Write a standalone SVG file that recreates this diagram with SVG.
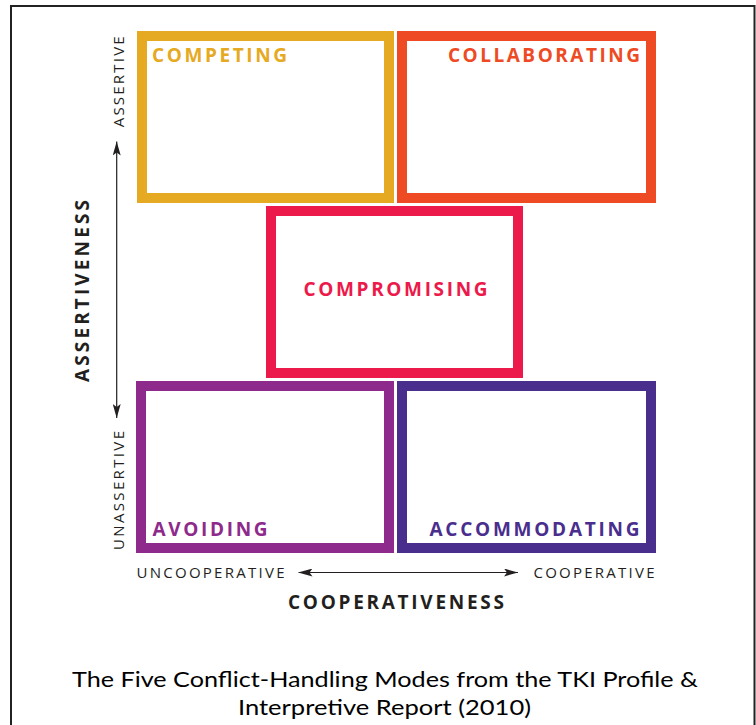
<svg xmlns="http://www.w3.org/2000/svg" width="756" height="725" viewBox="0 0 756 725">
  <defs>
    <marker id="ah" viewBox="0 0 14 8" refX="14" refY="4" markerWidth="14" markerHeight="8" markerUnits="userSpaceOnUse" orient="auto-start-reverse">
      <path d="M0,0 L14,4 L0,8 L3,4 Z" fill="#231F20"/>
    </marker>
  </defs>
  <style>
    .box { fill: #ffffff; stroke-width: 10; }
    .lbl { font-family: "Open Sans", "Liberation Sans", sans-serif; font-weight: 700; font-size: 19px; }
    .ax { font-family: "Open Sans", "Liberation Sans", sans-serif; font-size: 15px; fill: #231F20; }
    .axb { font-family: "Open Sans", "Liberation Sans", sans-serif; font-weight: 700; font-size: 19px; fill: #231F20; }
    .cap { font-family: "Lato", "Noto Sans", "Liberation Sans", sans-serif; font-size: 21px; fill: #000000; }
    .arr { stroke: #231F20; stroke-width: 1.2; fill: none; }
  </style>
  <rect x="0" y="0" width="756" height="725" fill="#ffffff"/>
  <rect x="11" y="6" width="743.5" height="760" fill="none" stroke="#222222" stroke-width="2"/>

  <g id="competing">
    <rect class="box" x="142" y="36" width="247" height="162" stroke="#E6A922"/>
    <text class="lbl" x="152" y="61.5" fill="#E6A922" textLength="135" lengthAdjust="spacing">COMPETING</text>
  </g>
  <g id="collaborating">
    <rect class="box" x="402" y="36" width="249" height="162" stroke="#EE4A23"/>
    <text class="lbl" x="448" y="61.5" fill="#EE4A23" textLength="192" lengthAdjust="spacing">COLLABORATING</text>
  </g>
  <g id="compromising">
    <rect class="box" x="271" y="211" width="247" height="162" stroke="#EC1A4A"/>
    <text class="lbl" x="303.5" y="296" fill="#EC1A4A" textLength="184" lengthAdjust="spacing">COMPROMISING</text>
  </g>
  <g id="avoiding">
    <rect class="box" x="141" y="386" width="248" height="162" stroke="#8E2A8B"/>
    <text class="lbl" x="152.5" y="536" fill="#8E2A8B" textLength="115" lengthAdjust="spacing">AVOIDING</text>
  </g>
  <g id="accommodating">
    <rect class="box" x="402" y="386" width="249" height="162" stroke="#4A2E8E"/>
    <text class="lbl" x="429.5" y="536" fill="#4A2E8E" textLength="210" lengthAdjust="spacing">ACCOMMODATING</text>
  </g>

  <g id="axis-labels">
    <text class="ax" transform="translate(123.5,127.3) rotate(-90)" x="0" y="0" textLength="91" lengthAdjust="spacing">ASSERTIVE</text>
    <text class="ax" transform="translate(123.5,550) rotate(-90)" x="0" y="0" textLength="119" lengthAdjust="spacing">UNASSERTIVE</text>
    <text class="axb" transform="translate(88.5,382) rotate(-90)" x="0" y="0" textLength="182" lengthAdjust="spacing">ASSERTIVENESS</text>
    <text class="ax" x="136.5" y="578" textLength="148" lengthAdjust="spacing">UNCOOPERATIVE</text>
    <text class="ax" x="533.5" y="578" textLength="121" lengthAdjust="spacing">COOPERATIVE</text>
    <text class="axb" x="288" y="609" textLength="216" lengthAdjust="spacing">COOPERATIVENESS</text>
  </g>

  <g id="connectors">
    <line class="arr" x1="116.7" y1="141.5" x2="116.7" y2="418" marker-start="url(#ah)" marker-end="url(#ah)"/>
    <line class="arr" x1="298.5" y1="572.5" x2="518" y2="572.5" marker-start="url(#ah)" marker-end="url(#ah)"/>
  </g>

  <g id="caption">
    <text class="cap" x="72" y="687" textLength="626" lengthAdjust="spacingAndGlyphs">The Five Conflict-Handling Modes from the TKI Profile &amp;</text>
    <text class="cap" x="238" y="714.5" textLength="293" lengthAdjust="spacingAndGlyphs">Interpretive Report (2010)</text>
  </g>
</svg>
